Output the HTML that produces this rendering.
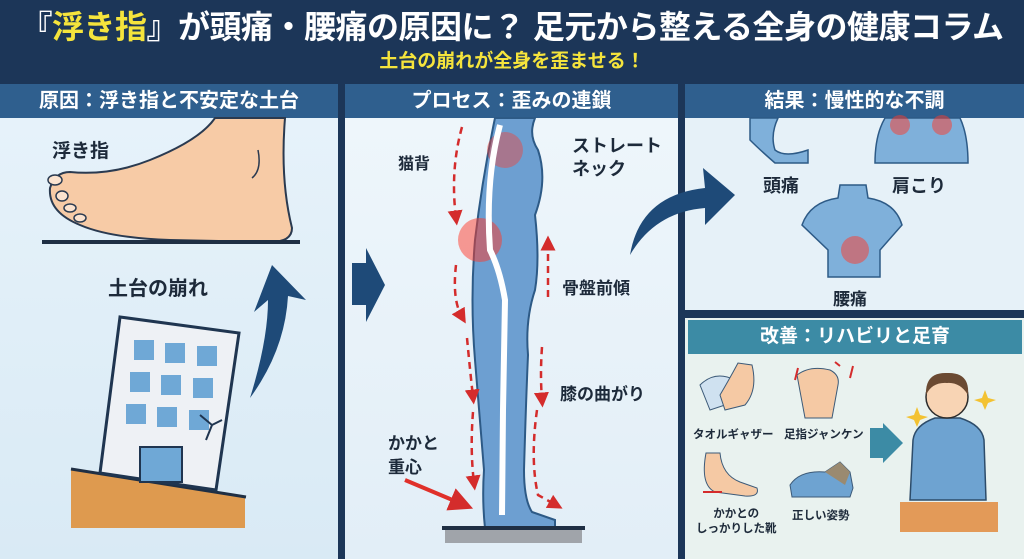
<!DOCTYPE html>
<html><head><meta charset="utf-8"><style>
body{margin:0;width:1024px;height:559px;overflow:hidden;background:#1c3658;font-family:"Liberation Sans","Noto Sans CJK JP",sans-serif;position:relative}
.a{position:absolute}
.t{position:absolute;font-weight:bold;color:#1d2a3a;white-space:nowrap}
.hd{position:absolute;top:84px;height:34px;background:#2f5f8e;color:#fff;font-weight:bold;font-size:20px;text-align:center;line-height:34px}
</style></head><body>
<div class="t" style="left:0;width:1024px;top:2px;text-align:center;font-size:32px;color:#fff;letter-spacing:-0.5px">『<span style="color:#f5e43c">浮き指</span>』が頭痛・腰痛の原因に？ 足元から整える全身の健康コラム</div>
<div class="t" style="left:0;width:1024px;top:46px;text-align:center;font-size:19px;color:#f5e43c">土台の崩れが全身を歪ませる！</div>
<div class="hd" style="left:0;width:338px">原因：浮き指と不安定な土台</div>
<div class="hd" style="left:345px;width:333px">プロセス：歪みの連鎖</div>
<div class="hd" style="left:685px;width:339px">結果：慢性的な不調</div>
<div class="a" style="left:0;top:118px;width:338px;height:441px;background:linear-gradient(#e6f2fa,#d9eaf5)"></div>
<div class="a" style="left:345px;top:118px;width:333px;height:441px;background:linear-gradient(#eef6fb,#e2eef7)"></div>
<div class="a" style="left:685px;top:118px;width:339px;height:192px;background:#e6f1f8"></div>
<div class="a" style="left:685px;top:318px;width:339px;height:241px;background:#e9f2ef"></div>
<div class="a" style="left:688px;top:320px;width:334px;height:34px;background:#3c8ba5;color:#fff;font-weight:bold;font-size:19px;text-align:center;line-height:34px">改善：リハビリと足育</div>
<svg class="a" style="left:0;top:0" width="1024" height="559">
<defs><marker id="m" markerWidth="6" markerHeight="6" refX="3" refY="3" orient="auto"><path d="M0 0 L6 3 L0 6Z" fill="#d42c2c"/></marker></defs>
<path d="M215 118 L285 118 Q280 180 292 228 Q292 242 270 242 L170 240 Q110 238 80 225 Q48 212 50 188 Q55 172 70 172 Q110 176 150 160 Q200 140 215 118Z" fill="#f7cba6" stroke="#2a3a50" stroke-width="2"/>
<path d="M258 150 Q262 170 252 178" stroke="#2a3a50" stroke-width="1.5" fill="none"/>
<g fill="#fbe3cf" stroke="#2a3a50" stroke-width="1.5"><ellipse cx="55" cy="180" rx="7" ry="5"/><ellipse cx="62" cy="196" rx="6" ry="5"/><ellipse cx="70" cy="208" rx="6" ry="4"/><ellipse cx="80" cy="218" rx="6" ry="4"/></g>
<rect x="42" y="240" width="258" height="4" fill="#1f2f44"/>
<path d="M71 470 L245 497 L245 528 L71 528Z" fill="#de9a4f"/>
<path d="M71 469 L246 497" stroke="#1f2f44" stroke-width="3"/>
<path d="M120 317 L239 333 L216 490 L100 473Z" fill="#eef1f5" stroke="#1f3550" stroke-width="3"/>
<g fill="#6fa8d6"><rect x="134" y="340" width="20" height="20"/><rect x="165" y="343" width="20" height="20"/><rect x="197" y="346" width="20" height="20"/><rect x="130" y="372" width="20" height="20"/><rect x="161" y="375" width="20" height="20"/><rect x="193" y="378" width="20" height="20"/><rect x="126" y="404" width="20" height="20"/><rect x="157" y="407" width="20" height="20"/><rect x="189" y="410" width="20" height="20"/><rect x="140" y="447" width="42" height="35" stroke="#1f3550" stroke-width="2"/></g>
<path d="M200 415 L212 425 L206 440 M212 425 L222 420" stroke="#1f3550" stroke-width="2" fill="none"/>
<path d="M250 398 Q268 340 268 300 L254 312 L272 265 L306 300 L288 296 Q285 350 250 398Z" fill="#1e4a78"/>
<path d="M352 263 L366 263 L366 248 L385 285 L366 322 L366 305 L352 305Z" fill="#1e4a78"/>
<path d="M630 255 Q640 195 705 188 L703 168 L735 195 L705 225 L705 208 Q655 212 630 255Z" fill="#1e4a78"/>
<path d="M870 428 L883 428 L883 423 L903 443 L883 463 L883 458 L870 458Z" fill="#3c8ba5"/>
<path d="M495 118 L535 118 Q528 135 538 150 Q548 180 535 215 Q540 260 535 290 Q525 320 528 355 Q526 400 524 470 Q524 500 532 512 L555 520 L555 528 L485 528 Q482 500 484 470 Q480 420 475 360 Q470 300 475 240 Q482 180 495 118Z" fill="#6d9fd1" stroke="#2d5a86" stroke-width="2"/>
<circle cx="505" cy="150" r="18" fill="#ff3a2a" opacity=".4"/>
<circle cx="480" cy="240" r="22" fill="#ff3a2a" opacity=".5"/>
<path d="M500 125 Q485 180 490 250 Q500 270 505 300 L503 410 L502 515" stroke="#fff" stroke-width="6" fill="none"/>
<g stroke="#d42c2c" stroke-width="2.5" stroke-dasharray="7 5" fill="none" marker-end="url(#m)">
<path d="M462 127 Q450 170 456 218"/><path d="M456 265 Q452 300 462 317"/><path d="M467 338 Q470 370 473 397"/><path d="M473 412 Q470 450 474 483"/><path d="M548 297 Q548 270 548 243"/><path d="M542 347 Q540 375 542 400"/><path d="M537 410 Q530 460 538 495 L556 505"/>
</g>
<path d="M405 480 L462 504" stroke="#e0302a" stroke-width="4" marker-end="url(#m)"/>
<rect x="442" y="526" width="143" height="4" fill="#1f2f44"/>
<rect x="445" y="530" width="137" height="13" fill="#a0a4aa"/>
<path d="M750 118 L778 118 Q770 135 775 150 Q785 158 808 150 L808 163 L775 163 Q760 150 750 140Z" fill="#7fb0da" stroke="#2d5a86" stroke-width="1.5"/>
<path d="M885 118 L960 118 Q968 135 968 163 L875 163 Q875 135 885 118Z" fill="#7fb0da" stroke="#2d5a86" stroke-width="1.5"/>
<circle cx="900" cy="125" r="10" fill="#ff3a2a" opacity=".5"/><circle cx="942" cy="125" r="10" fill="#ff3a2a" opacity=".5"/>
<path d="M840 185 L866 185 L868 198 Q895 202 902 225 L880 250 L880 277 L828 277 L828 250 L802 225 Q810 202 838 198Z" fill="#7fb0da" stroke="#2d5a86" stroke-width="1.5"/>
<circle cx="855" cy="250" r="14" fill="#ff3a2a" opacity=".5"/>
<path d="M700 385 Q715 370 735 380 L740 400 L710 410Z" fill="#cfe1f0" stroke="#3c5a78"/>
<path d="M720 395 Q730 378 738 363 L752 365 Q758 390 745 405 L725 410Z" fill="#f5c9a4" stroke="#3c5a78"/>
<path d="M797 375 Q810 365 830 370 Q840 375 838 385 L832 418 L805 418 Z" fill="#f5c9a4" stroke="#3c5a78"/>
<path d="M795 380 L798 368 M850 378 L853 366 M840 366 L835 362" stroke="#d42c2c" stroke-width="2"/>
<path d="M706 453 L720 453 Q722 475 740 482 L757 488 Q760 497 745 496 L715 492 Q700 485 706 453Z" fill="#f5c9a4" stroke="#3c5a78"/>
<path d="M703 492 L722 492" stroke="#d42c2c" stroke-width="2"/>
<path d="M790 485 Q800 470 825 472 L840 462 L850 472 L853 488 L850 497 L792 497Z" fill="#6ea3d1" stroke="#3c5a78"/>
<path d="M825 472 L840 462 L850 472 L845 485Z" fill="#9a8a70"/>
<path d="M917 407 L920 415 L928 417 L920 420 L917 427 L914 420 L906 417 L914 415Z" fill="#f3c232"/>
<path d="M985 390 L988 398 L996 400 L988 403 L985 410 L982 403 L974 400 L982 398Z" fill="#f3c232"/>
<path d="M913 440 Q915 425 935 418 L960 418 Q982 425 984 440 L986 500 L910 500Z" fill="#6ea3d1" stroke="#2d4c6a" stroke-width="1.5"/>
<circle cx="947" cy="397" r="21" fill="#f8d4b4" stroke="#2d2d2d" stroke-width="1.5"/>
<path d="M926 395 Q925 372 947 373 Q970 372 968 395 Q960 382 947 383 Q932 382 926 395Z" fill="#6b4a32"/>
<rect x="900" y="502" width="98" height="30" fill="#e39a58"/>
</svg>
<div class="t" style="left:52px;top:136px;font-size:19px">浮き指</div>
<div class="t" style="left:108px;top:272px;font-size:20px">土台の崩れ</div>
<div class="t" style="left:398px;top:150px;font-size:16px">猫背</div>
<div class="t" style="left:572px;top:135px;font-size:18px;line-height:23px">ストレート<br>ネック</div>
<div class="t" style="left:562px;top:274px;font-size:17px">骨盤前傾</div>
<div class="t" style="left:560px;top:380px;font-size:17px">膝の曲がり</div>
<div class="t" style="left:388px;top:432px;font-size:17px;line-height:24px">かかと<br>重心</div>
<div class="t" style="left:763px;top:172px;font-size:18px">頭痛</div>
<div class="t" style="left:892px;top:172px;font-size:18px">肩こり</div>
<div class="t" style="left:833px;top:285px;font-size:17px">腰痛</div>
<div class="t" style="left:693px;top:426px;font-size:11.5px">タオルギャザー</div>
<div class="t" style="left:784px;top:426px;font-size:11.5px">足指ジャンケン</div>
<div class="t" style="left:696px;top:507px;font-size:11.5px;text-align:center;line-height:15px">かかとの<br>しっかりした靴</div>
<div class="t" style="left:792px;top:507px;font-size:11.5px">正しい姿勢</div>
</body></html>
